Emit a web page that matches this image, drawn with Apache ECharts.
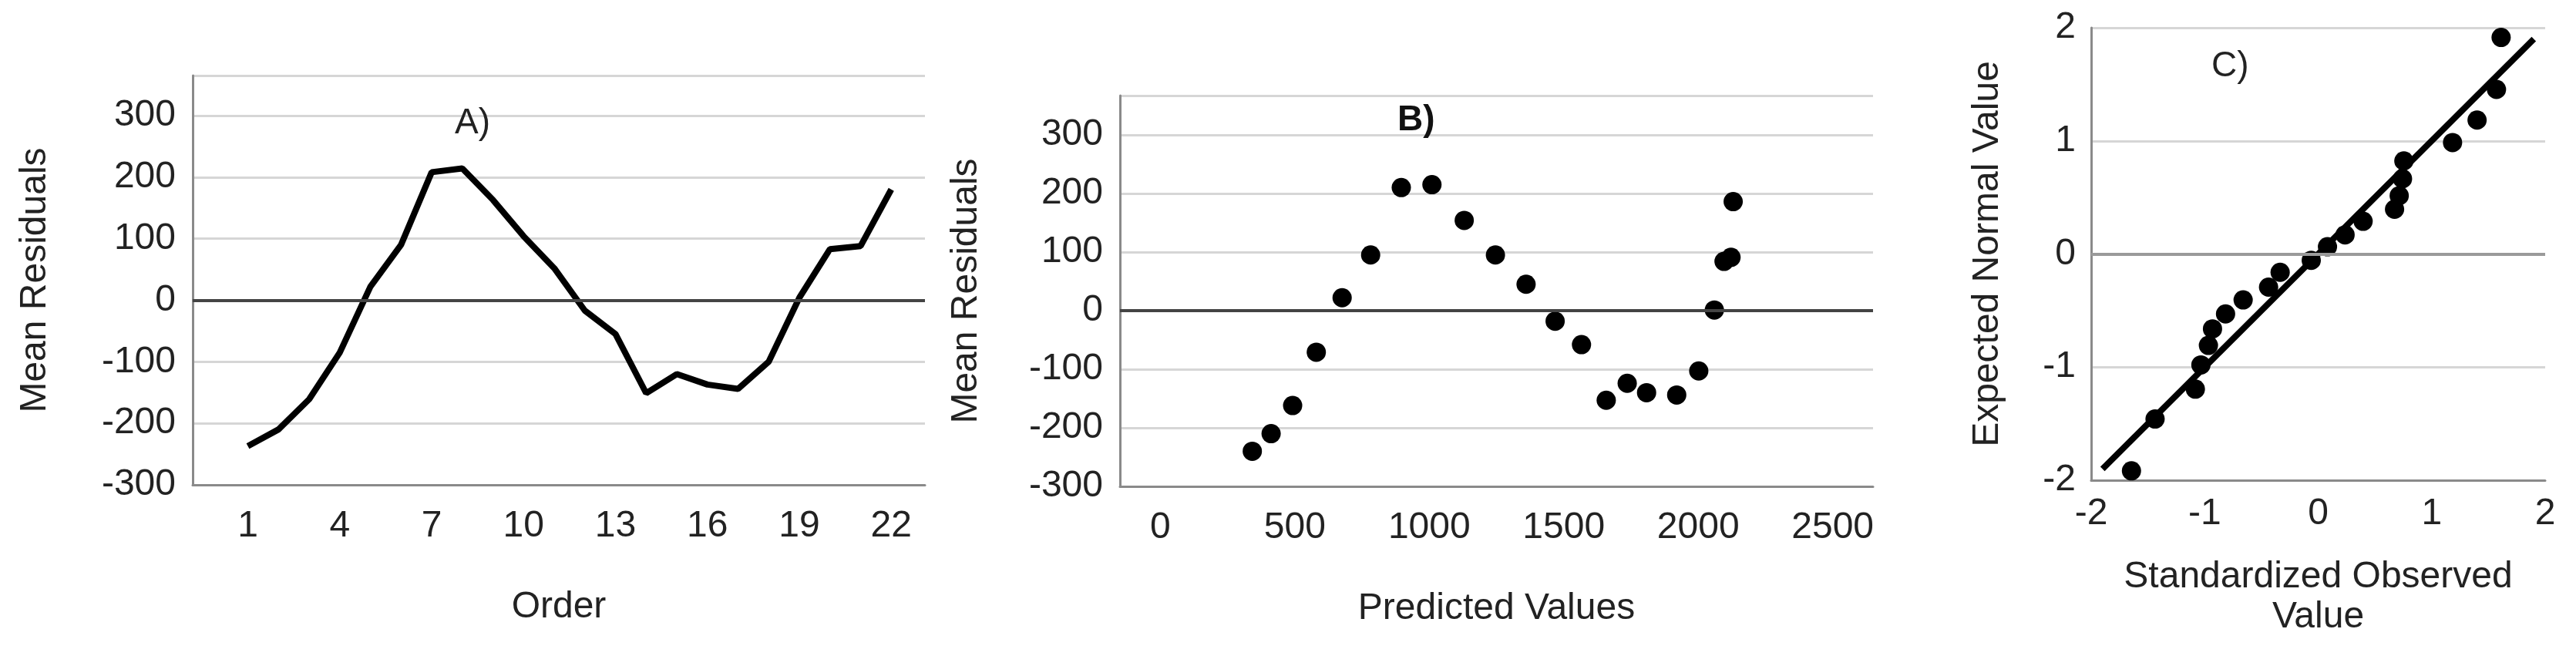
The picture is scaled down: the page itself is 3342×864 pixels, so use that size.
<!DOCTYPE html>
<html>
<head>
    <meta charset="utf-8"/>
    <title>Residuals</title>
    <script src="https://cdn.jsdelivr.net/npm/echarts@6/dist/echarts.min.js"></script>
</head>
<body style="margin:0">
<div id="main" style="width: 3342px; height: 864px;"></div>
<script type="text/javascript">
    // A) residuals by order
    var orderVals = [1, 2, 3, 4, 5, 6, 7, 8, 9, 10, 11, 12, 13, 14, 15, 16, 17, 18, 19, 20, 21, 22];
    var residuals = [-237, -210, -161, -85, 22, 90, 208, 214, 163, 104, 52, -17, -55, -151, -120, -137, -144, -100, 4, 83, 88, 180];

    // B) residuals vs predicted
    var predicted = [342, 412, 492, 580, 676, 782, 896, 1010, 1130, 1246, 1360, 1468, 1566, 1658, 1736, 1808, 1920, 2002, 2060, 2096, 2122, 2130];
    var residualsB = [-240, -210, -162, -71, 22, 95, 210, 215, 154, 95, 45, -18, -58, -153, -124, -140, -144, -103, 1, 84, 91, 186];

    // C) normal P-P
    var stdObserved = [-1.645, -1.437, -1.082, -1.033, -0.967, -0.931, -0.816, -0.661, -0.437, -0.335, -0.061, 0.082, 0.237, 0.396, 0.673, 0.714, 0.743, 0.755, 1.184, 1.400, 1.571, 1.612];
    var expectedNormal = [-1.917, -1.459, -1.195, -0.981, -0.808, -0.662, -0.530, -0.406, -0.293, -0.162, -0.056, 0.064, 0.169, 0.289, 0.395, 0.515, 0.665, 0.823, 0.985, 1.184, 1.455, 1.914];
    var refLine = [[-1.9, -1.9], [1.9, 1.9]];

    function zip(a, b) {
        return a.map(function (v, i) { return [v, b[i]]; });
    }

    var FONT = 'Liberation Sans';
    var txt = {color: '#222', fontSize: 48, fontFamily: FONT};
    var light = '#d6d6d6', axisCol = '#8a8a8a';

    function isStep(v, step) {
        var r = Math.round(v);
        return Math.abs(v - r) < 1e-6 && r % step === 0;
    }

    // dark horizontal line at zero
    function zeroLine(col) {
        return {
            silent: true, symbol: 'none', label: {show: false},
            lineStyle: {color: col, width: 4, type: 'solid'},
            data: [{yAxis: 0}]
        };
    }

    var chart = echarts.init(document.getElementById('main'));
    var option = {
        backgroundColor: '#fff',
        animation: false,
        title: [
            {text: 'A)', left: 585, top: 132, textStyle: {color: '#222', fontSize: 46, fontWeight: 'normal', fontFamily: FONT}},
            {text: 'B)', left: 1808, top: 128, textStyle: {color: '#111', fontSize: 46, fontWeight: 'bold', fontFamily: FONT}},
            {text: 'C)', left: 2864, top: 58, textStyle: {color: '#222', fontSize: 46, fontWeight: 'normal', fontFamily: FONT}}
        ],
        grid: [
            {left: 250, top: 98, width: 950, height: 531},
            {left: 1453, top: 124, width: 977, height: 507},
            {left: 2713, top: 36, width: 589, height: 587}
        ],
        xAxis: [
            {
                gridIndex: 0, type: 'value', min: -0.8, max: 23.1, interval: 0.1,
                name: 'Order', nameLocation: 'middle', nameGap: 135, nameTextStyle: txt,
                axisLine: {onZero: false, lineStyle: {color: axisCol, width: 3}},
                axisTick: {show: false}, splitLine: {show: false},
                axisLabel: Object.assign({margin: 30, showMinLabel: false, showMaxLabel: false, formatter: function (v) {
                    var r = Math.round(v);
                    return (Math.abs(v - r) < 1e-6 && r >= 1 && (r - 1) % 3 === 0) ? String(r) : '';
                }}, txt)
            },
            {
                gridIndex: 1, type: 'value', min: -150, max: 2650, interval: 50,
                name: 'Predicted Values', nameLocation: 'middle', nameGap: 135, nameTextStyle: txt,
                axisLine: {onZero: false, lineStyle: {color: axisCol, width: 3}},
                axisTick: {show: false}, splitLine: {show: false},
                axisLabel: Object.assign({margin: 30, showMinLabel: false, showMaxLabel: false, formatter: function (v) {
                    return (isStep(v, 500) && v >= 0 && v <= 2500) ? String(Math.round(v)) : '';
                }}, txt)
            },
            {
                gridIndex: 2, type: 'value', min: -2, max: 2, interval: 1,
                name: 'Standardized Observed\nValue', nameLocation: 'middle', nameGap: 100,
                nameTextStyle: Object.assign({lineHeight: 52}, txt),
                axisLine: {onZero: false, lineStyle: {color: axisCol, width: 3}},
                axisTick: {show: false}, splitLine: {show: false},
                axisLabel: Object.assign({margin: 20}, txt)
            }
        ],
        yAxis: [
            {
                gridIndex: 0, type: 'value', min: -300, max: 365, interval: 100,
                name: 'Mean Residuals', nameLocation: 'middle', nameGap: 180, nameTextStyle: txt,
                axisLine: {show: true, onZero: false, lineStyle: {color: axisCol, width: 3}},
                axisTick: {show: false},
                axisLabel: Object.assign({margin: 22, showMaxLabel: false}, txt),
                splitLine: {lineStyle: {width: 3, color: light}}
            },
            {
                gridIndex: 1, type: 'value', min: -300, max: 367, interval: 100,
                name: 'Mean Residuals', nameLocation: 'middle', nameGap: 175, nameTextStyle: txt,
                axisLine: {show: true, onZero: false, lineStyle: {color: axisCol, width: 3}},
                axisTick: {show: false},
                axisLabel: Object.assign({margin: 22, showMaxLabel: false}, txt),
                splitLine: {lineStyle: {width: 3, color: light}}
            },
            {
                gridIndex: 2, type: 'value', min: -2, max: 2, interval: 1,
                name: 'Expected Normal Value', nameLocation: 'middle', nameGap: 110, nameTextStyle: txt,
                axisLine: {show: true, onZero: false, lineStyle: {color: axisCol, width: 3}},
                axisTick: {show: false},
                axisLabel: Object.assign({margin: 20}, txt),
                splitLine: {lineStyle: {width: 3, color: light}}
            }
        ],
        series: [
            {
                type: 'line', xAxisIndex: 0, yAxisIndex: 0,
                data: zip(orderVals, residuals),
                showSymbol: false, lineStyle: {color: '#000', width: 8},
                markLine: zeroLine('#444'), z: 3
            },
            {
                type: 'scatter', xAxisIndex: 1, yAxisIndex: 1,
                data: zip(predicted, residualsB),
                symbolSize: 25, itemStyle: {color: '#000', opacity: 1},
                markLine: zeroLine('#444')
            },
            {
                type: 'line', xAxisIndex: 2, yAxisIndex: 2,
                data: refLine, showSymbol: false,
                lineStyle: {color: '#000', width: 8},
                markLine: zeroLine('#9a9a9a')
            },
            {
                type: 'scatter', xAxisIndex: 2, yAxisIndex: 2,
                data: zip(stdObserved, expectedNormal),
                symbolSize: 25, itemStyle: {color: '#000', opacity: 1}
            }
        ]
    };
    chart.setOption(option);
</script>
</body>
</html>
